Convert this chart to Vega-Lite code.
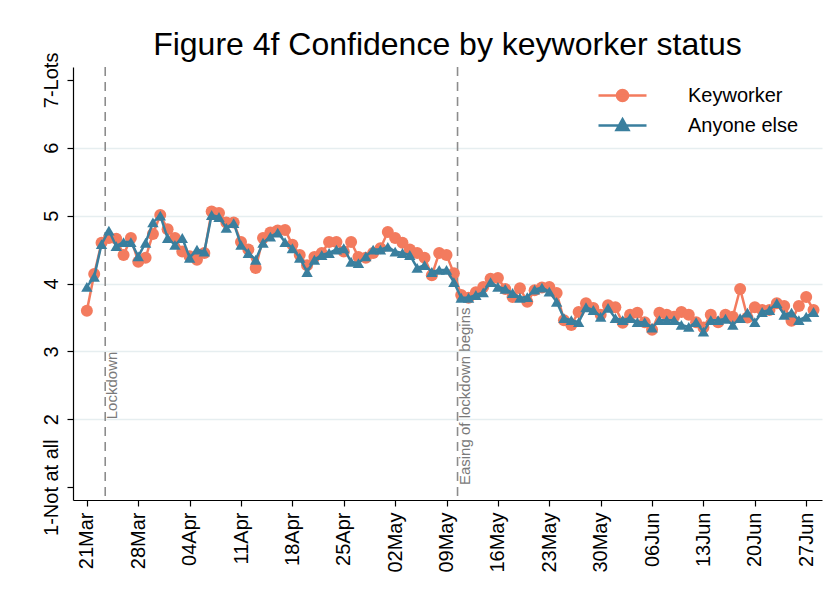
{
  "$schema": "https://vega.github.io/schema/vega-lite/v6.json",
  "width": 749,
  "height": 433,
  "autosize": {"type": "none"},
  "padding": {"left": 73, "top": 67, "right": 10, "bottom": 104},
  "background": "white",
  "config": {"font": "Liberation Sans", "view": {"stroke": null}},
  "title": {"text": "Figure 4f Confidence by keyworker status", "fontSize": 32, "fontWeight": "normal", "color": "black", "anchor": "middle", "offset": -10, "font": "Liberation Sans"},
  "layer": [
    {
      "data": {"values": [
        {"d": "2020-03-23 12:00", "label": "Lockdown", "y": 2},
        {"d": "2020-05-10 12:00", "label": "Easing of lockdown begins", "y": 1.03}
      ], "format": {"parse": {"d": "date:'%Y-%m-%d %H:%M'"}}},
      "layer": [
        {
          "mark": {"type": "rule", "stroke": "#8c8c8c", "strokeWidth": 1.6, "strokeDash": [9, 6]},
          "encoding": {
            "x": {"field": "d", "type": "temporal", "title": null, "scale": {"domain": [{"year": 2020, "month": 3, "date": 19, "hours": 2, "minutes": 40}, {"year": 2020, "month": 6, "date": 29, "hours": 3, "minutes": 40}]}}
          }
        },
        {
          "mark": {"type": "text", "angle": 270, "align": "left", "baseline": "top", "color": "#7a7a7a", "fontSize": 15, "font": "Liberation Sans"},
          "encoding": {
            "x": {"field": "d", "type": "temporal", "title": null, "scale": {"domain": [{"year": 2020, "month": 3, "date": 19, "hours": 2, "minutes": 40}, {"year": 2020, "month": 6, "date": 29, "hours": 3, "minutes": 40}]}},
            "y": {"field": "y", "type": "quantitative", "title": null, "scale": {"domain": [0.81, 7.19], "nice": false, "zero": false}},
            "text": {"field": "label"}
          }
        }
      ]
    },
    {
      "data": {"values": [
        {"d": "2020-03-21", "Keyworker": 3.6, "Anyone else": 3.95},
        {"d": "2020-03-22", "Keyworker": 4.14, "Anyone else": 4.1},
        {"d": "2020-03-23", "Keyworker": 4.6, "Anyone else": 4.58},
        {"d": "2020-03-24", "Keyworker": 4.67, "Anyone else": 4.78},
        {"d": "2020-03-25", "Keyworker": 4.66, "Anyone else": 4.55},
        {"d": "2020-03-26", "Keyworker": 4.42, "Anyone else": 4.61},
        {"d": "2020-03-27", "Keyworker": 4.67, "Anyone else": 4.61},
        {"d": "2020-03-28", "Keyworker": 4.32, "Anyone else": 4.4},
        {"d": "2020-03-29", "Keyworker": 4.38, "Anyone else": 4.6},
        {"d": "2020-03-30", "Keyworker": 4.73, "Anyone else": 4.9},
        {"d": "2020-03-31", "Keyworker": 5.01, "Anyone else": 5.0},
        {"d": "2020-04-01", "Keyworker": 4.8, "Anyone else": 4.67},
        {"d": "2020-04-02", "Keyworker": 4.67, "Anyone else": 4.57},
        {"d": "2020-04-03", "Keyworker": 4.47, "Anyone else": 4.67},
        {"d": "2020-04-04", "Keyworker": 4.4, "Anyone else": 4.38},
        {"d": "2020-04-05", "Keyworker": 4.35, "Anyone else": 4.5},
        {"d": "2020-04-06", "Keyworker": 4.45, "Anyone else": 4.47},
        {"d": "2020-04-07", "Keyworker": 5.06, "Anyone else": 5.01},
        {"d": "2020-04-08", "Keyworker": 5.04, "Anyone else": 4.98},
        {"d": "2020-04-09", "Keyworker": 4.9, "Anyone else": 4.82},
        {"d": "2020-04-10", "Keyworker": 4.9, "Anyone else": 4.89},
        {"d": "2020-04-11", "Keyworker": 4.61, "Anyone else": 4.57},
        {"d": "2020-04-12", "Keyworker": 4.5, "Anyone else": 4.45},
        {"d": "2020-04-13", "Keyworker": 4.23, "Anyone else": 4.35},
        {"d": "2020-04-14", "Keyworker": 4.67, "Anyone else": 4.6},
        {"d": "2020-04-15", "Keyworker": 4.75, "Anyone else": 4.69},
        {"d": "2020-04-16", "Keyworker": 4.78, "Anyone else": 4.75},
        {"d": "2020-04-17", "Keyworker": 4.79, "Anyone else": 4.61},
        {"d": "2020-04-18", "Keyworker": 4.57, "Anyone else": 4.52},
        {"d": "2020-04-19", "Keyworker": 4.42, "Anyone else": 4.38},
        {"d": "2020-04-20", "Keyworker": 4.27, "Anyone else": 4.17},
        {"d": "2020-04-21", "Keyworker": 4.39, "Anyone else": 4.35},
        {"d": "2020-04-22", "Keyworker": 4.45, "Anyone else": 4.42},
        {"d": "2020-04-23", "Keyworker": 4.61, "Anyone else": 4.45},
        {"d": "2020-04-24", "Keyworker": 4.61, "Anyone else": 4.5},
        {"d": "2020-04-25", "Keyworker": 4.47, "Anyone else": 4.52},
        {"d": "2020-04-26", "Keyworker": 4.61, "Anyone else": 4.32},
        {"d": "2020-04-27", "Keyworker": 4.39, "Anyone else": 4.3},
        {"d": "2020-04-28", "Keyworker": 4.38, "Anyone else": 4.4},
        {"d": "2020-04-29", "Keyworker": 4.45, "Anyone else": 4.5},
        {"d": "2020-04-30", "Keyworker": 4.52, "Anyone else": 4.5},
        {"d": "2020-05-01", "Keyworker": 4.76, "Anyone else": 4.54},
        {"d": "2020-05-02", "Keyworker": 4.67, "Anyone else": 4.47},
        {"d": "2020-05-03", "Keyworker": 4.6, "Anyone else": 4.45},
        {"d": "2020-05-04", "Keyworker": 4.5, "Anyone else": 4.42},
        {"d": "2020-05-05", "Keyworker": 4.45, "Anyone else": 4.23},
        {"d": "2020-05-06", "Keyworker": 4.38, "Anyone else": 4.27},
        {"d": "2020-05-07", "Keyworker": 4.12, "Anyone else": 4.17},
        {"d": "2020-05-08", "Keyworker": 4.45, "Anyone else": 4.2},
        {"d": "2020-05-09", "Keyworker": 4.42, "Anyone else": 4.2},
        {"d": "2020-05-10", "Keyworker": 4.15, "Anyone else": 4.02},
        {"d": "2020-05-11", "Keyworker": 3.83, "Anyone else": 3.79},
        {"d": "2020-05-12", "Keyworker": 3.79, "Anyone else": 3.79},
        {"d": "2020-05-13", "Keyworker": 3.87, "Anyone else": 3.83},
        {"d": "2020-05-14", "Keyworker": 3.95, "Anyone else": 3.87},
        {"d": "2020-05-15", "Keyworker": 4.07, "Anyone else": 4.02},
        {"d": "2020-05-16", "Keyworker": 4.08, "Anyone else": 3.95},
        {"d": "2020-05-17", "Keyworker": 3.92, "Anyone else": 3.92},
        {"d": "2020-05-18", "Keyworker": 3.8, "Anyone else": 3.86},
        {"d": "2020-05-19", "Keyworker": 3.93, "Anyone else": 3.79},
        {"d": "2020-05-20", "Keyworker": 3.73, "Anyone else": 3.8},
        {"d": "2020-05-21", "Keyworker": 3.9, "Anyone else": 3.91},
        {"d": "2020-05-22", "Keyworker": 3.94, "Anyone else": 3.94},
        {"d": "2020-05-23", "Keyworker": 3.95, "Anyone else": 3.88},
        {"d": "2020-05-24", "Keyworker": 3.86, "Anyone else": 3.73},
        {"d": "2020-05-25", "Keyworker": 3.46, "Anyone else": 3.49},
        {"d": "2020-05-26", "Keyworker": 3.39, "Anyone else": 3.46},
        {"d": "2020-05-27", "Keyworker": 3.58, "Anyone else": 3.43},
        {"d": "2020-05-28", "Keyworker": 3.71, "Anyone else": 3.65},
        {"d": "2020-05-29", "Keyworker": 3.64, "Anyone else": 3.61},
        {"d": "2020-05-30", "Keyworker": 3.54, "Anyone else": 3.51},
        {"d": "2020-05-31", "Keyworker": 3.68, "Anyone else": 3.64},
        {"d": "2020-06-01", "Keyworker": 3.65, "Anyone else": 3.49},
        {"d": "2020-06-02", "Keyworker": 3.42, "Anyone else": 3.46},
        {"d": "2020-06-03", "Keyworker": 3.54, "Anyone else": 3.49},
        {"d": "2020-06-04", "Keyworker": 3.57, "Anyone else": 3.43},
        {"d": "2020-06-05", "Keyworker": 3.43, "Anyone else": 3.43},
        {"d": "2020-06-06", "Keyworker": 3.32, "Anyone else": 3.35},
        {"d": "2020-06-07", "Keyworker": 3.57, "Anyone else": 3.46},
        {"d": "2020-06-08", "Keyworker": 3.54, "Anyone else": 3.46},
        {"d": "2020-06-09", "Keyworker": 3.51, "Anyone else": 3.46},
        {"d": "2020-06-10", "Keyworker": 3.58, "Anyone else": 3.39},
        {"d": "2020-06-11", "Keyworker": 3.54, "Anyone else": 3.36},
        {"d": "2020-06-12", "Keyworker": 3.43, "Anyone else": 3.43},
        {"d": "2020-06-13", "Keyworker": 3.35, "Anyone else": 3.29},
        {"d": "2020-06-14", "Keyworker": 3.54, "Anyone else": 3.46},
        {"d": "2020-06-15", "Keyworker": 3.43, "Anyone else": 3.46},
        {"d": "2020-06-16", "Keyworker": 3.54, "Anyone else": 3.48},
        {"d": "2020-06-17", "Keyworker": 3.51, "Anyone else": 3.39},
        {"d": "2020-06-18", "Keyworker": 3.92, "Anyone else": 3.49},
        {"d": "2020-06-19", "Keyworker": 3.5, "Anyone else": 3.57},
        {"d": "2020-06-20", "Keyworker": 3.65, "Anyone else": 3.43},
        {"d": "2020-06-21", "Keyworker": 3.61, "Anyone else": 3.58},
        {"d": "2020-06-22", "Keyworker": 3.61, "Anyone else": 3.61},
        {"d": "2020-06-23", "Keyworker": 3.71, "Anyone else": 3.71},
        {"d": "2020-06-24", "Keyworker": 3.67, "Anyone else": 3.54},
        {"d": "2020-06-25", "Keyworker": 3.45, "Anyone else": 3.57},
        {"d": "2020-06-26", "Keyworker": 3.67, "Anyone else": 3.46},
        {"d": "2020-06-27", "Keyworker": 3.8, "Anyone else": 3.51},
        {"d": "2020-06-28", "Keyworker": 3.61, "Anyone else": 3.58}
      ], "format": {"parse": {"d": "date:'%Y-%m-%d'"}}},
      "transform": [{"fold": ["Keyworker", "Anyone else"], "as": ["key", "value"]}],
      "encoding": {
        "x": {
          "field": "d", "type": "temporal", "title": null,
          "scale": {"domain": [{"year": 2020, "month": 3, "date": 19, "hours": 2, "minutes": 40}, {"year": 2020, "month": 6, "date": 29, "hours": 3, "minutes": 40}]},
          "axis": {
            "values": [
              {"year": 2020, "month": 3, "date": 21}, {"year": 2020, "month": 3, "date": 28},
              {"year": 2020, "month": 4, "date": 4}, {"year": 2020, "month": 4, "date": 11},
              {"year": 2020, "month": 4, "date": 18}, {"year": 2020, "month": 4, "date": 25},
              {"year": 2020, "month": 5, "date": 2}, {"year": 2020, "month": 5, "date": 9},
              {"year": 2020, "month": 5, "date": 16}, {"year": 2020, "month": 5, "date": 23},
              {"year": 2020, "month": 5, "date": 30}, {"year": 2020, "month": 6, "date": 6},
              {"year": 2020, "month": 6, "date": 13}, {"year": 2020, "month": 6, "date": 20},
              {"year": 2020, "month": 6, "date": 27}
            ],
            "format": "%d%b", "labelAngle": 270, "labelAlign": "right", "labelBaseline": "middle",
            "labelFontSize": 20, "labelFont": "Liberation Sans", "labelColor": "black",
            "tickColor": "black", "domainColor": "black", "tickSize": 6, "labelPadding": 6,
            "grid": false, "domainWidth": 1.2, "tickWidth": 1.2, "labelOverlap": false, "labelFlush": false
          }
        },
        "y": {
          "field": "value", "type": "quantitative", "title": null,
          "scale": {"domain": [0.81, 7.19], "nice": false, "zero": false},
          "axis": {
            "values": [1, 2, 3, 4, 5, 6, 7],
            "labelExpr": "datum.value==1?'1-Not at all':datum.value==7?'7-Lots':format(datum.value,'d')",
            "labelAngle": 270, "labelAlign": "center", "labelBaseline": "bottom",
            "labelFontSize": 20, "labelFont": "Liberation Sans", "labelColor": "black",
            "tickColor": "black", "domainColor": "black", "tickSize": 6, "labelPadding": 6,
            "domainWidth": 1.2, "tickWidth": 1.2, "labelOverlap": false, "labelFlush": false,
            "grid": true, "gridWidth": 1.5,
            "gridColor": {"condition": {"test": "datum.value==1||datum.value==7", "value": "transparent"}, "value": "#e6eef0"}
          }
        },
        "color": {
          "field": "key", "type": "nominal",
          "scale": {"domain": ["Keyworker", "Anyone else"], "range": ["#f37b5e", "#3a7f9e"]},
          "legend": {
            "orient": "none", "legendX": 533, "legendY": 12, "title": null, "padding": 0,
            "symbolSize": 900, "symbolStrokeWidth": 2.5, "labelFontSize": 20, "labelFont": "Liberation Sans",
            "labelColor": "black", "labelOffset": 49, "rowPadding": 2,
            "encode": {"symbols": {"update": {
              "shape": {"signal": "datum.value=='Keyworker'?'M-1.6,0L1.6,0M-0.37,0A0.37,0.37,0,1,1,0.37,0A0.37,0.37,0,1,1,-0.37,0Z':'M-1.6,0L1.6,0M0,-0.42L0.4,0.3L-0.4,0.3Z'"},
              "fill": {"signal": "datum.value=='Keyworker'?'#f37b5e':'#3a7f9e'"},
              "stroke": {"signal": "datum.value=='Keyworker'?'#f37b5e':'#3a7f9e'"},
              "strokeWidth": {"value": 2.5},
              "opacity": {"value": 1},
              "fillOpacity": {"value": 1}
            }}}
          }
        }
      },
      "layer": [
        {"transform": [{"filter": "datum.key=='Keyworker'"}], "mark": {"type": "line", "strokeWidth": 2.5}},
        {"transform": [{"filter": "datum.key=='Keyworker'"}], "mark": {"type": "point", "shape": "circle", "filled": true, "size": 144, "opacity": 1}},
        {"transform": [{"filter": "datum.key=='Anyone else'"}], "mark": {"type": "line", "strokeWidth": 2.5}},
        {"transform": [{"filter": "datum.key=='Anyone else'"}], "mark": {"type": "point", "shape": "triangle-up", "filled": true, "size": 130, "opacity": 1}}
      ]
    }
  ]
}
